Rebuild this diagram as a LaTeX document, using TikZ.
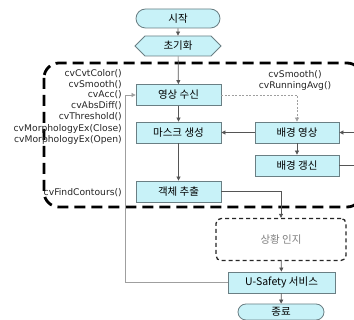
\documentclass[tikz,border=0pt]{standalone}
\usepackage{fontspec}
\setmainfont{DejaVu Sans}
\newfontfamily\kr{Noto Sans CJK KR}
\usetikzlibrary{shapes.misc,shapes.symbols,arrows.meta}
\definecolor{boxfill}{HTML}{C8F2F8}
\definecolor{boxline}{HTML}{6A7F84}
\definecolor{lineclr}{HTML}{555555}
\begin{document}
\begin{tikzpicture}[x=1pt,y=-1pt,
  box/.style={draw=boxline, fill=boxfill, line width=0.8pt, inner sep=0pt,
    font=\kr\fontsize{10.5}{12}\selectfont, minimum height=21},
  term/.style={box, rounded rectangle},
  conn/.style={draw=lineclr, line width=0.7pt, -{Triangle[length=4pt,width=4pt]}},
  lab/.style={font=\fontsize{9.2}{11}\selectfont, inner sep=0pt, text=black!85},
]
\useasboundingbox (0,0) rectangle (354,320);
\fill[white] (0,0) rectangle (354,320);

% group frame
\draw[line width=2.8pt, dash pattern=on 11pt off 6pt, rounded corners=15] (44,63) rectangle (362,207);

% nodes
\node[term, minimum width=84, minimum height=19] (start) at (178,18.5) {시작};
\node[box, signal, signal to=west and east, signal pointer angle=90,
      minimum width=86, minimum height=20] (init) at (178,46) {초기화};
\node[box, minimum width=85] (recv) at (178.5,95) {영상 수신};
\node[box, minimum width=85] (mask) at (178.5,132.5) {마스크 생성};
\node[box, minimum width=84] (bg) at (297,132.5) {배경 영상};
\node[box, minimum width=84] (upd) at (297,165.5) {배경 갱신};
\node[box, minimum width=85] (obj) at (178.5,191.5) {객체 추출};
\node[draw=black!85, line width=1.3pt, dash pattern=on 4pt off 3pt, rounded corners=5,
      minimum width=130, minimum height=42, inner sep=0pt,
      font=\kr\fontsize{10.5}{12}\selectfont, text=gray] (situ) at (281,239.5) {상황 인지};
\node[box, minimum width=107] (svc) at (281.5,282.5) {U-Safety 서비스};
\node[term, minimum width=86, minimum height=16] (end) at (281,312) {종료};

% labels
\node[lab, anchor=east] (f1) at (122,74) {cvCvtColor()};
\node[lab, anchor=east] (f2) at (122,84.5) {cvSmooth()};
\node[lab, anchor=east] (f3) at (122,95) {cvAcc()};
\node[lab, anchor=east] (f4) at (122,105.5) {cvAbsDiff()};
\node[lab, anchor=east] (f5) at (122,116.5) {cvThreshold()};
\node[lab, anchor=east] (f6) at (122,128.5) {cvMorphologyEx(Close)};
\node[lab, anchor=east] (f7) at (122,139.5) {cvMorphologyEx(Open)};
\node[lab, anchor=east] (f8) at (122,193) {cvFindContours()};
\node[lab] (g1) at (295,75) {cvSmooth()};
\node[lab] (g2) at (295,86) {cvRunningAvg()};

% connectors
\coordinate (loopR) at (362,0);
\coordinate (loopL) at (125,0);
\draw[conn] (start) -- (init);
\draw[conn] (init) -- (recv);
\draw[conn] (recv) -- (mask);
\draw[conn] (mask) -- (obj);
\draw[conn] (bg) -- (mask);
\draw[conn] (bg) -- (upd);
\draw[conn, draw=gray!75, dash pattern=on 2pt off 1.5pt] (recv.east) -- (bg.north |- recv.east) -- (bg.north);
\draw[conn] (upd.east) -- (upd.east -| loopR) -- (bg.east -| loopR) -- (bg.east);
\draw[conn] (obj.east) -- (obj.east -| situ.north) -- (situ.north);
\draw[conn] (situ) -- (svc);
\draw[conn] (svc) -- (end);
\draw[conn, draw=gray!75] (svc.west) -- (svc.west -| loopL) -- (recv.west -| loopL) -- (recv.west);
\end{tikzpicture}
\end{document}
